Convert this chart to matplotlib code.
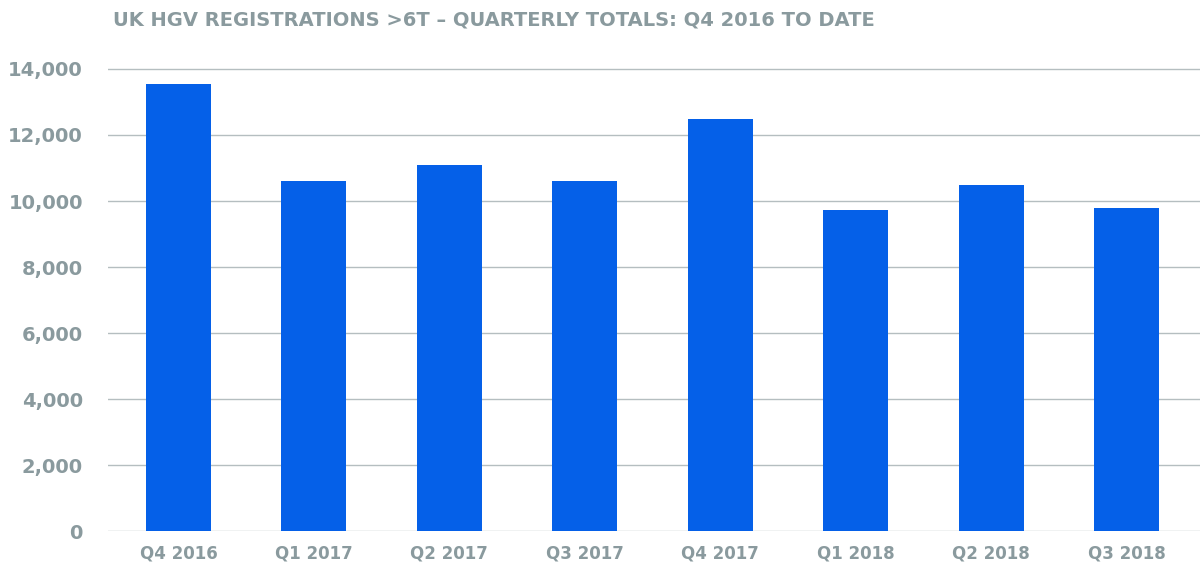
import matplotlib.pyplot as plt

quarters = ['Q4 2016', 'Q1 2017', 'Q2 2017', 'Q3 2017', 'Q4 2017', 'Q1 2018', 'Q2 2018', 'Q3 2018']
registrations = [13550, 10600, 11090, 10600, 12480, 9730, 10480, 9790]
yticks = [0, 2000, 4000, 6000, 8000, 10000, 12000, 14000]

grey = '#8a9a9e'
fig = plt.figure(figsize=(12, 5.68), dpi=100)
ax = fig.add_axes([0.09, 0.065, 0.91, 0.831])

ax.bar(range(len(quarters)), registrations, width=0.48, color='#0560e8', zorder=3)
ax.set_xlim(-0.52, 7.54)
ax.set_ylim(0, 14300)
ax.set_yticks(yticks)
ax.set_yticklabels([f'{v:,}' for v in yticks])
ax.set_xticks(range(len(quarters)))
ax.set_xticklabels(quarters)
ax.grid(axis='y', color='#b5bec0', linewidth=1, zorder=0)
for s in ax.spines.values():
    s.set_visible(False)
ax.tick_params(length=0, colors=grey, labelsize=12)
ax.tick_params(axis='y', labelsize=14, pad=18)
ax.tick_params(axis='x', pad=10)
for lbl in ax.get_xticklabels() + ax.get_yticklabels():
    lbl.set_fontweight('bold')
    lbl.set_fontfamily('DejaVu Sans Condensed')

fig.text(0.094, 0.965, 'UK HGV REGISTRATIONS >6T – QUARTERLY TOTALS: Q4 2016 TO DATE',
         color=grey, fontsize=14, fontweight='bold', family='DejaVu Sans Condensed', va='center')

fig.savefig('out.png', dpi=100)
